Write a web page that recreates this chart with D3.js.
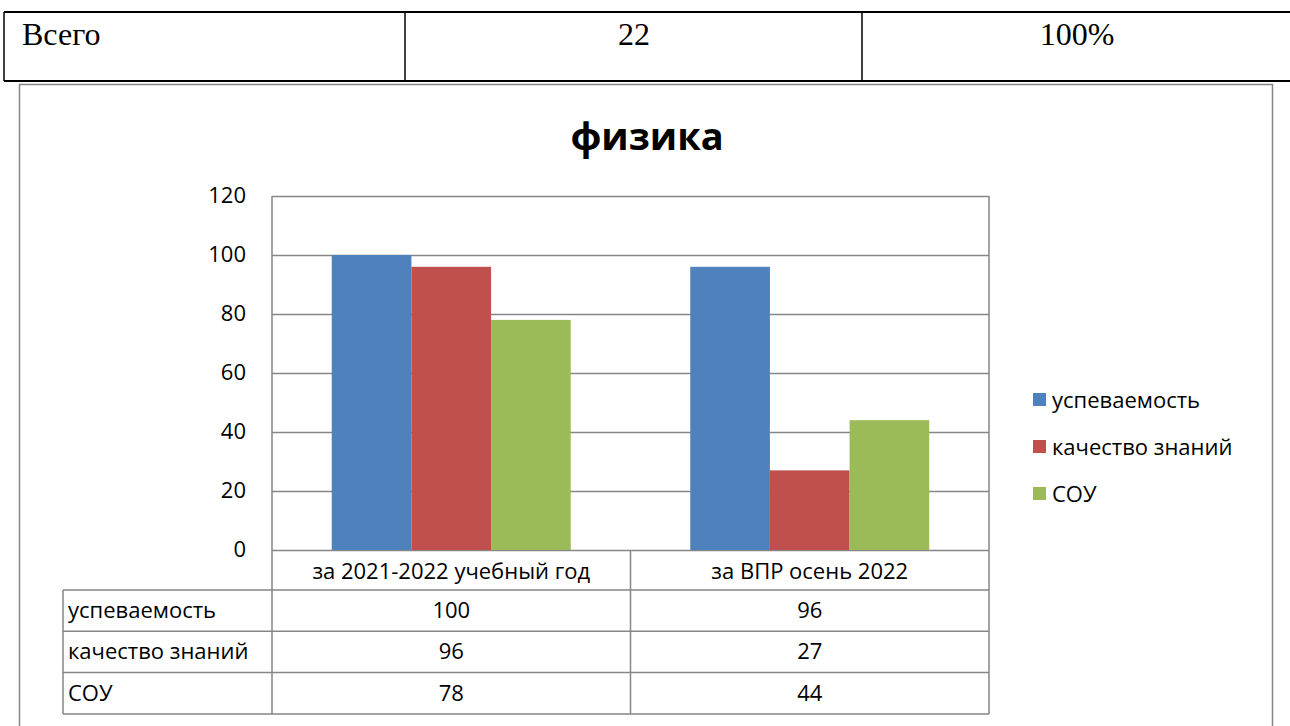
<!DOCTYPE html>
<html>
<head>
<meta charset="utf-8">
<script src="https://cdn.jsdelivr.net/npm/d3@7/dist/d3.min.js"></script>
<style>
  body { margin: 0; background: #fff; }
  svg { display: block; }
</style>
</head>
<body>
<script>
// data
var categories = ['за 2021-2022 учебный год', 'за ВПР осень 2022'];
var seriesNames = ['успеваемость', 'качество знаний', 'СОУ'];
var uspevaemost = [100, 96];
var kachestvo = [96, 27];
var sou = [78, 44];
var yTicks = [0, 20, 40, 60, 80, 100, 120];
var topRow = ['Всего', '22', '100%'];

var seriesValues = [uspevaemost, kachestvo, sou];
var colors = ['#4F81BD', '#C0504D', '#9BBB59'];
var font = '"Open Sans", sans-serif';
var fs = 22;

var svg = d3.select('body').append('svg').attr('width', 1290).attr('height', 726);

// table above the chart
var tg = svg.append('g');
tg.append('line').attr('x1', 4).attr('x2', 1290).attr('y1', 12).attr('y2', 12).attr('stroke', '#000').attr('stroke-width', 2);
tg.append('line').attr('x1', 4).attr('x2', 1290).attr('y1', 81).attr('y2', 81).attr('stroke', '#000').attr('stroke-width', 2);
[4, 405, 862].forEach(function (xx) {
    tg.append('line').attr('x1', xx).attr('x2', xx).attr('y1', 12).attr('y2', 81).attr('stroke', '#000').attr('stroke-width', 1.5);
});
var serif = '"Liberation Serif", serif';
tg.append('text').attr('x', 22).attr('y', 45).text(topRow[0])
    .attr('font-family', serif).attr('font-size', 32);
tg.append('text').attr('x', 634).attr('y', 45).attr('text-anchor', 'middle').text(topRow[1])
    .attr('font-family', serif).attr('font-size', 32);
tg.append('text').attr('x', 1077).attr('y', 45).attr('text-anchor', 'middle').text(topRow[2])
    .attr('font-family', serif).attr('font-size', 32);

// chart frame
svg.append('rect').attr('x', 19.5).attr('y', 84.5).attr('width', 1253).attr('height', 660)
    .attr('fill', '#fff').attr('stroke', '#868686').attr('stroke-width', 1.5);

svg.append('text').attr('x', 647).attr('y', 150).attr('text-anchor', 'middle')
    .attr('font-family', font).attr('font-weight', 'bold').attr('font-size', 38)
    .text('физика');

var pLeft = 272, pRight = 989, pTop = 196, base = 550;
var x = d3.scaleBand().domain(categories).range([pLeft, pRight]).paddingInner(0).paddingOuter(0);
var x1 = d3.scaleBand().domain(seriesNames).range([0, x.bandwidth()]).paddingOuter(0.75).paddingInner(0);
var y = d3.scaleLinear().domain([0, 120]).range([base, pTop]);

// gridlines
svg.append('g').selectAll('line').data(yTicks).enter().append('line')
    .attr('x1', pLeft).attr('x2', pRight)
    .attr('y1', function (d) { return Math.round(y(d)) + 0.5; })
    .attr('y2', function (d) { return Math.round(y(d)) + 0.5; })
    .attr('stroke', '#868686').attr('stroke-width', 1.5);

// y labels
svg.append('g').selectAll('text').data(yTicks).enter().append('text')
    .attr('x', 246).attr('y', function (d) { return y(d) + 7; })
    .attr('text-anchor', 'end').attr('font-family', font).attr('font-size', fs)
    .text(function (d) { return d; });

// bars
seriesNames.forEach(function (s, i) {
    svg.append('g').selectAll('rect').data(seriesValues[i]).enter().append('rect')
        .attr('x', function (d, j) { return x(categories[j]) + x1(s); })
        .attr('width', x1.bandwidth())
        .attr('y', function (d) { return y(d); })
        .attr('height', function (d) { return base - y(d); })
        .attr('fill', colors[i]);
});

// data table under the plot
var rowH = 41.3;
var tableLeft = 63;
var rowsTop = 590;
var grid = svg.append('g').attr('stroke', '#868686').attr('stroke-width', 1.5);
grid.append('line').attr('x1', pLeft).attr('x2', pLeft).attr('y1', pTop).attr('y2', rowsTop + 3 * rowH);
grid.append('line').attr('x1', x(categories[1])).attr('x2', x(categories[1])).attr('y1', base).attr('y2', rowsTop + 3 * rowH);
grid.append('line').attr('x1', pRight).attr('x2', pRight).attr('y1', pTop).attr('y2', rowsTop + 3 * rowH);
grid.append('line').attr('x1', tableLeft).attr('x2', tableLeft).attr('y1', rowsTop).attr('y2', rowsTop + 3 * rowH);
for (var r = 0; r <= 3; r++) {
    grid.append('line').attr('x1', tableLeft).attr('x2', pRight)
        .attr('y1', rowsTop + r * rowH).attr('y2', rowsTop + r * rowH);
}

svg.append('g').selectAll('text').data(categories).enter().append('text')
    .attr('x', function (d) { return x(d) + x.bandwidth() / 2; })
    .attr('y', 579).attr('text-anchor', 'middle')
    .attr('font-family', font).attr('font-size', fs)
    .text(function (d) { return d; });

seriesNames.forEach(function (s, i) {
    var yy = rowsTop + i * rowH + 28;
    svg.append('text').attr('x', tableLeft + 5).attr('y', yy)
        .attr('font-family', font).attr('font-size', fs).text(s);
    svg.append('g').selectAll('text').data(seriesValues[i]).enter().append('text')
        .attr('x', function (d, j) { return x(categories[j]) + x.bandwidth() / 2; })
        .attr('y', yy).attr('text-anchor', 'middle')
        .attr('font-family', font).attr('font-size', fs)
        .text(function (d) { return d; });
});

// legend
var lg = svg.append('g');
seriesNames.forEach(function (s, i) {
    var ly = 400 + i * 47;
    lg.append('rect').attr('x', 1033).attr('y', ly - 7).attr('width', 13).attr('height', 13).attr('fill', colors[i]);
    lg.append('text').attr('x', 1052).attr('y', ly + 8)
        .attr('font-family', font).attr('font-size', fs).text(s);
});
</script>
</body>
</html>
